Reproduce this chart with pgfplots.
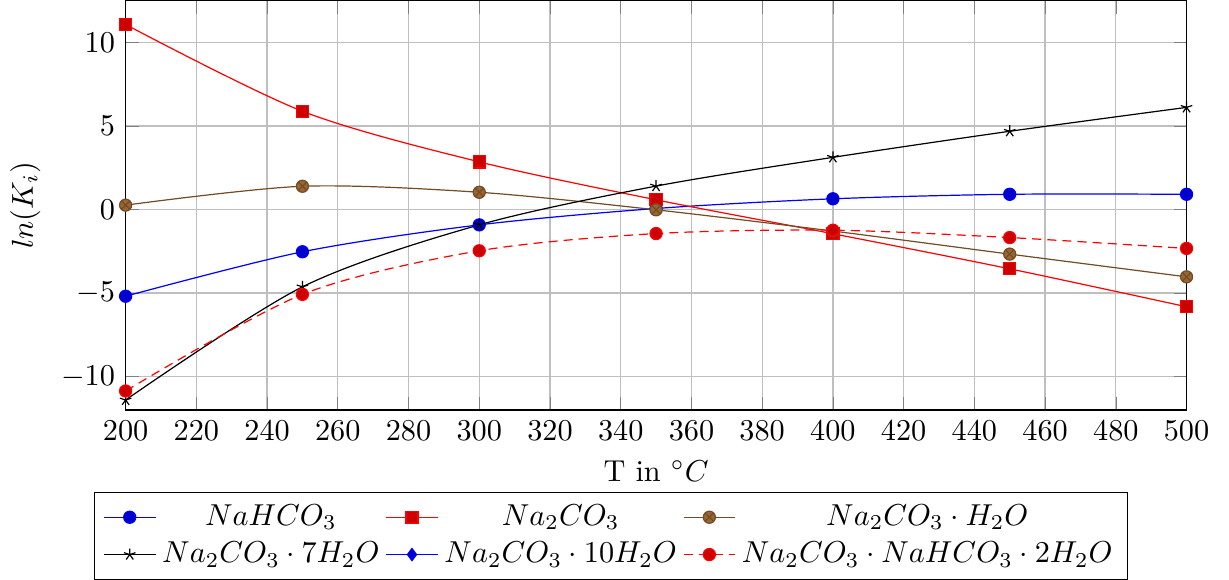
\documentclass[border=0pt]{standalone}
\usepackage{pgfplots}
\pgfplotsset{compat=1.18}
\begin{document}
\begin{tikzpicture}
\begin{axis}[
  scale only axis,
  width=350.6pt, height=135.3pt,
  xmin=200, xmax=500, ymin=-12, ymax=12.5,
  xtick distance=20, ytick={-10,-5,0,5,10},
  grid=major,
  xlabel={T in $^\circ C$},
  ylabel={$ln(K_i)$},
  legend columns=3,
  legend cell align=center,
  legend style={at={(0.4575,-0.2)}, anchor=north},
]
\addplot+[smooth] coordinates {(200,-5.19) (250,-2.53) (300,-0.92) (350,0.06) (400,0.64) (450,0.91) (500,0.91)};
\addplot+[smooth] coordinates {(200,11.07) (250,5.88) (300,2.85) (350,0.58) (400,-1.45) (450,-3.55) (500,-5.82)};
\addplot+[smooth] coordinates {(200,0.26) (250,1.39) (300,1.03) (350,-0.02) (400,-1.29) (450,-2.67) (500,-4.03)};
\addplot+[smooth] coordinates {(200,-11.4) (250,-4.63) (300,-0.92) (350,1.40) (400,3.12) (450,4.68) (500,6.11)};
\addlegendimage{blue,mark=diamond*,every mark/.append style={fill=blue!80!black}}
\addplot[red,densely dashed,mark=*,every mark/.append style={solid,fill=red!80!black},smooth] coordinates {(200,-10.86) (250,-5.08) (300,-2.47) (350,-1.44) (400,-1.24) (450,-1.68) (500,-2.33)};
\legend{$NaHCO_3$,$Na_2CO_3$,$Na_2CO_3\cdot H_2O$,$Na_2CO_3\cdot 7H_2O$,$Na_2CO_3\cdot 10H_2O$,$Na_2CO_3\cdot NaHCO_3\cdot 2H_2O$}
\end{axis}
\path (current bounding box.east) ++(3.2pt,0);
\end{tikzpicture}
\end{document}
